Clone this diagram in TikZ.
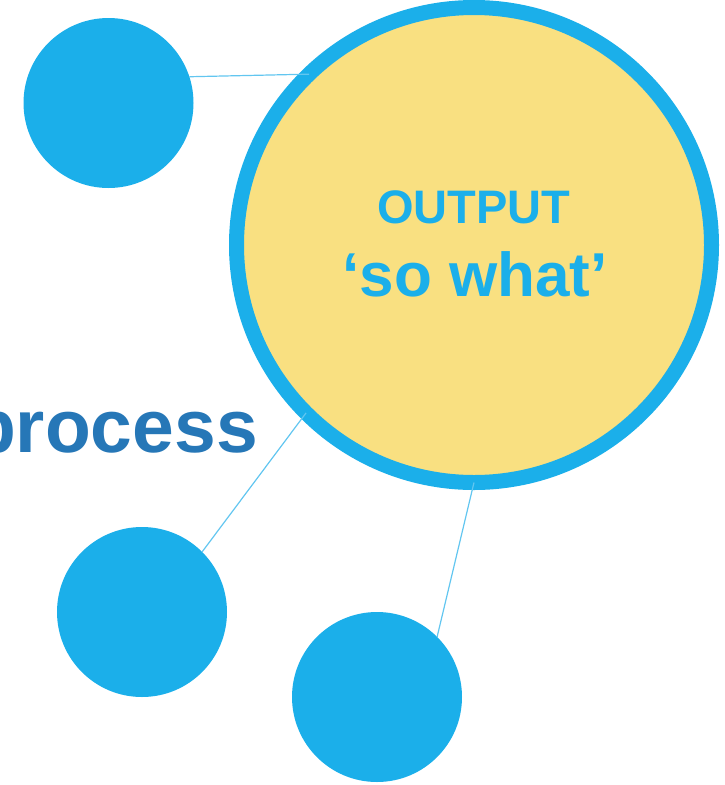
\documentclass[tikz,border=0pt]{standalone}
\usepackage{fontspec}
\setmainfont{Liberation Sans}
\definecolor{dotblue}{HTML}{1BAFEA}
\definecolor{sunyellow}{HTML}{F9E081}
\definecolor{darkblue}{HTML}{2677B7}
\definecolor{linkblue}{HTML}{62C6F0}
\begin{document}
\begin{tikzpicture}[x=1pt,y=-1pt,
  bigcircle/.style={circle,draw=dotblue,fill=sunyellow,line width=15pt,minimum size=475pt,inner sep=0pt,outer sep=0pt},
  dot/.style={circle,fill=dotblue,minimum size=170pt,inner sep=0pt,outer sep=0pt},
  link/.style={draw=linkblue,line width=1.2pt},
  headtext/.style={text=dotblue,font=\bfseries,inner sep=0pt,anchor=base}]
\useasboundingbox (0,0) rectangle (725,785);
\node[bigcircle] (out) at (474,245) {};
\node[dot] (d1) at (108.5,103) {};
\node[dot] (d2) at (142,612) {};
\node[dot] (d3) at (377,697) {};
\node[headtext,font=\bfseries\fontsize{47}{52}\selectfont] (t1) at (474,223) {OUTPUT};
\node[headtext,font=\bfseries\fontsize{62}{68}\selectfont] (t2) at (475,296) {‘so what’};
\node[text=darkblue,font=\bfseries\fontsize{75}{80}\selectfont,inner sep=0pt,anchor=base east] (proc) at (258,452) {process};
\draw[link] (d1.18) -- (out.134.7);
\draw[link] (d2.45) -- (out.-135);
\draw[link] (d3.45) -- (out.-90);
\end{tikzpicture}
\end{document}
